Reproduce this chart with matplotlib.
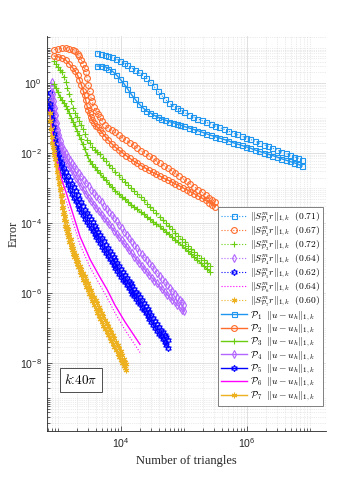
import numpy as np
import matplotlib
matplotlib.use('Agg')
import matplotlib.pyplot as plt
from matplotlib.ticker import LogLocator, NullFormatter, LogFormatterSciNotation, FixedLocator

plt.rcParams['font.family'] = ['Liberation Sans', 'DejaVu Sans']
plt.rcParams['mathtext.fontset'] = 'cm'

# ---------------- data (log10 of number of triangles / error) ----------------
p1_logn = [3.62,3.68,3.74,3.80,3.86,3.92,3.98,4.04,4.10,4.16,4.22,4.28,4.34,4.40,4.46,4.52,4.58,4.64,4.70,4.76,
           4.82,4.88,4.94,5.00,5.07,5.14,5.21,5.28,5.35,5.42,5.49,5.56,5.63,5.70,5.77,5.84,5.91,5.98,6.05,6.12,
           6.19,6.26,6.33,6.40,6.47,6.54,6.61,6.68,6.75,6.81,6.87]
p1_est = [0.86,0.83,0.80,0.77,0.73,0.68,0.63,0.58,0.52,0.44,0.37,0.30,0.23,0.14,0.03,-0.09,-0.23,-0.35,-0.46,-0.57,
          -0.65,-0.71,-0.78,-0.84,-0.90,-0.96,-1.02,-1.07,-1.12,-1.17,-1.22,-1.27,-1.32,-1.37,-1.42,-1.47,-1.52,-1.56,-1.61,-1.66,
          -1.71,-1.76,-1.81,-1.86,-1.91,-1.96,-2.01,-2.06,-2.11,-2.15,-2.19]
p1_err = [0.48,0.48,0.47,0.41,0.34,0.24,0.12,-0.01,-0.16,-0.32,-0.46,-0.59,-0.70,-0.79,-0.85,-0.92,-0.97,-1.02,-1.06,-1.10,
          -1.13,-1.17,-1.20,-1.24,-1.28,-1.32,-1.36,-1.40,-1.45,-1.49,-1.53,-1.57,-1.61,-1.65,-1.70,-1.74,-1.78,-1.82,-1.86,-1.91,
          -1.95,-1.99,-2.03,-2.07,-2.11,-2.16,-2.20,-2.24,-2.28,-2.32,-2.37]

p2_logn = [2.94,3.00,3.06,3.12,3.18,3.23,3.27,3.31,3.34,3.37,3.40,3.42,3.44,3.46,3.48,3.50,3.52,3.54,3.57,3.60,
           3.63,3.66,3.70,3.75,3.80,3.85,3.90,3.96,4.02,4.08,4.14,4.20,4.26,4.32,4.38,4.44,4.50,4.56,4.62,4.68,
           4.74,4.80,4.86,4.92,4.98,5.04,5.10,5.16,5.22,5.28,5.34,5.40,5.45,5.49]
p2_est = [0.95,0.97,0.99,1.00,0.97,0.95,0.91,0.84,0.77,0.66,0.55,0.43,0.31,0.13,-0.06,-0.23,-0.40,-0.52,-0.68,-0.81,
          -0.89,-0.98,-1.08,-1.19,-1.28,-1.35,-1.41,-1.48,-1.56,-1.63,-1.71,-1.78,-1.86,-1.93,-2.01,-2.08,-2.15,-2.22,-2.29,-2.36,
          -2.43,-2.50,-2.58,-2.66,-2.73,-2.81,-2.88,-2.96,-3.04,-3.11,-3.19,-3.27,-3.34,-3.39]
p2_err = [0.77,0.75,0.71,0.66,0.54,0.44,0.33,0.22,0.09,-0.05,-0.22,-0.35,-0.50,-0.66,-0.76,-0.87,-0.98,-1.05,-1.13,-1.22,
          -1.27,-1.33,-1.42,-1.53,-1.64,-1.73,-1.82,-1.91,-1.99,-2.07,-2.15,-2.23,-2.29,-2.36,-2.42,-2.49,-2.55,-2.60,-2.66,-2.72,
          -2.77,-2.82,-2.88,-2.93,-2.99,-3.04,-3.10,-3.16,-3.22,-3.28,-3.35,-3.42,-3.48,-3.53]

p3_logn = [2.94,2.97,3.00,3.03,3.06,3.09,3.12,3.15,3.18,3.21,3.24,3.27,3.30,3.33,3.36,3.39,3.42,3.46,3.50,3.54,
           3.58,3.62,3.66,3.71,3.76,3.81,3.86,3.91,3.96,4.01,4.06,4.11,4.16,4.21,4.26,4.31,4.36,4.41,4.46,4.51,
           4.56,4.61,4.66,4.71,4.76,4.81,4.86,4.91,4.96,5.01,5.06,5.11,5.16,5.21,5.26,5.31,5.36,5.41]
p3_est = [0.62,0.53,0.45,0.38,0.30,0.18,0.03,-0.14,-0.32,-0.51,-0.71,-0.86,-0.97,-1.08,-1.20,-1.32,-1.45,-1.62,-1.72,-1.82,
          -1.90,-1.97,-2.04,-2.14,-2.24,-2.34,-2.44,-2.54,-2.63,-2.73,-2.82,-2.90,-2.99,-3.08,-3.17,-3.26,-3.35,-3.44,-3.53,-3.62,
          -3.71,-3.81,-3.90,-3.99,-4.09,-4.18,-4.27,-4.37,-4.46,-4.55,-4.64,-4.73,-4.82,-4.90,-4.98,-5.06,-5.13,-5.21]
p3_err = [-0.04,-0.15,-0.27,-0.39,-0.49,-0.57,-0.65,-0.74,-0.86,-0.99,-1.11,-1.24,-1.36,-1.49,-1.61,-1.74,-1.87,-2.05,-2.22,-2.32,
          -2.41,-2.49,-2.58,-2.68,-2.78,-2.88,-2.98,-3.08,-3.17,-3.24,-3.32,-3.39,-3.47,-3.54,-3.61,-3.69,-3.75,-3.82,-3.89,-3.96,
          -4.02,-4.09,-4.17,-4.24,-4.32,-4.40,-4.47,-4.55,-4.63,-4.71,-4.80,-4.88,-4.97,-5.05,-5.13,-5.22,-5.30,-5.38]

p4_logn = [2.90,2.91,2.92,2.93,2.945,2.96,2.98,3.00,3.02,3.045,3.07,3.10,3.13,3.16,3.19,3.22,3.25,3.29,3.33,3.37,
           3.41,3.45,3.49,3.53,3.57,3.61,3.65,3.69,3.73,3.77,3.81,3.85,3.89,3.93,3.97,4.01,4.05,4.09,4.13,4.17,
           4.21,4.25,4.29,4.33,4.37,4.41,4.45,4.49,4.53,4.57,4.61,4.65,4.69,4.73,4.77,4.81,4.85,4.89,4.93,4.97,5.00]
p4_est = [0.02,-0.12,-0.32,-0.51,-0.71,-0.91,-1.13,-1.35,-1.48,-1.65,-1.79,-1.90,-2.01,-2.11,-2.19,-2.27,-2.36,-2.46,-2.57,-2.66,
          -2.76,-2.85,-2.95,-3.04,-3.13,-3.22,-3.31,-3.41,-3.50,-3.59,-3.68,-3.77,-3.86,-3.95,-4.04,-4.14,-4.24,-4.33,-4.43,-4.53,
          -4.62,-4.72,-4.81,-4.89,-4.97,-5.06,-5.14,-5.23,-5.32,-5.41,-5.50,-5.59,-5.68,-5.76,-5.85,-5.93,-6.01,-6.10,-6.18,-6.26,-6.33]
p4_err = [-0.30,-0.43,-0.58,-0.73,-0.95,-1.17,-1.37,-1.52,-1.68,-1.83,-1.94,-2.08,-2.21,-2.30,-2.40,-2.49,-2.59,-2.72,-2.83,-2.95,
          -3.06,-3.17,-3.28,-3.38,-3.47,-3.57,-3.66,-3.76,-3.85,-3.94,-4.03,-4.12,-4.21,-4.31,-4.40,-4.49,-4.58,-4.68,-4.77,-4.86,
          -4.96,-5.05,-5.13,-5.22,-5.31,-5.39,-5.48,-5.56,-5.64,-5.72,-5.80,-5.88,-5.96,-6.04,-6.11,-6.18,-6.25,-6.33,-6.40,-6.47,-6.52]

p5_logn = [2.87,2.88,2.89,2.90,2.915,2.93,2.945,2.96,2.98,3.00,3.02,3.045,3.07,3.10,3.13,3.16,3.19,3.22,3.25,3.28,
           3.31,3.34,3.37,3.40,3.43,3.46,3.49,3.52,3.55,3.58,3.61,3.64,3.67,3.70,3.73,3.76,3.79,3.82,3.85,3.88,
           3.91,3.94,3.97,4.00,4.03,4.06,4.09,4.12,4.15,4.18,4.21,4.24,4.27,4.30,4.33,4.36,4.39,4.42,4.45,4.48,
           4.51,4.54,4.57,4.60,4.63,4.66,4.69,4.72,4.75]
p5_est = [-0.30,-0.48,-0.66,-0.84,-1.06,-1.26,-1.42,-1.56,-1.74,-1.91,-2.02,-2.14,-2.27,-2.43,-2.55,-2.66,-2.77,-2.87,-2.98,-3.09,
          -3.19,-3.30,-3.41,-3.52,-3.62,-3.71,-3.80,-3.89,-3.98,-4.07,-4.16,-4.25,-4.34,-4.43,-4.52,-4.61,-4.70,-4.79,-4.88,-4.97,
          -5.06,-5.14,-5.22,-5.31,-5.39,-5.47,-5.56,-5.64,-5.72,-5.80,-5.88,-5.96,-6.03,-6.11,-6.19,-6.27,-6.36,-6.44,-6.53,-6.62,
          -6.71,-6.80,-6.89,-6.97,-7.04,-7.11,-7.19,-7.26,-7.33]
p5_err = [-0.60,-0.75,-0.89,-1.04,-1.26,-1.46,-1.64,-1.82,-1.98,-2.10,-2.22,-2.37,-2.51,-2.64,-2.78,-2.91,-3.05,-3.16,-3.27,-3.37,
          -3.48,-3.59,-3.68,-3.77,-3.87,-3.96,-4.05,-4.14,-4.23,-4.31,-4.40,-4.49,-4.58,-4.67,-4.76,-4.85,-4.94,-5.03,-5.11,-5.20,
          -5.28,-5.36,-5.45,-5.53,-5.61,-5.69,-5.77,-5.85,-5.93,-6.01,-6.09,-6.16,-6.24,-6.32,-6.41,-6.49,-6.57,-6.66,-6.74,-6.82,
          -6.90,-6.98,-7.07,-7.15,-7.23,-7.31,-7.39,-7.47,-7.55]

p6_logn = [2.87,2.92,2.98,3.06,3.14,3.24,3.35,3.51,3.67,3.78,3.90,4.06,4.30]
p6_est = [-1.00,-1.85,-2.42,-2.99,-3.42,-3.99,-4.62,-5.27,-5.78,-6.13,-6.55,-7.04,-7.69]
p6_err = [-0.77,-1.62,-2.19,-2.76,-3.19,-3.76,-4.39,-5.04,-5.56,-5.90,-6.33,-6.81,-7.46]

p7_logn = [2.87,2.88,2.89,2.90,2.91,2.92,2.93,2.94,2.95,2.965,2.98,2.995,3.01,3.025,3.04,3.055,3.07,3.085,3.10,3.115,
           3.13,3.145,3.16,3.18,3.20,3.22,3.24,3.26,3.28,3.30,3.32,3.345,3.37,3.395,3.42,3.445,3.47,3.495,3.52,3.545,
           3.57,3.595,3.62,3.645,3.67,3.695,3.72,3.745,3.77,3.795,3.82,3.845,3.87,3.895,3.92,3.945,3.97,3.995,4.02,4.045,
           4.065,4.08]
p7_est = [-0.58,-0.82,-1.06,-1.27,-1.45,-1.62,-1.74,-1.86,-1.98,-2.16,-2.33,-2.49,-2.66,-2.83,-3.01,-3.19,-3.37,-3.53,-3.67,-3.80,
          -3.94,-4.07,-4.17,-4.31,-4.46,-4.60,-4.71,-4.81,-4.92,-5.02,-5.11,-5.22,-5.32,-5.42,-5.52,-5.62,-5.72,-5.81,-5.91,-6.01,
          -6.10,-6.20,-6.29,-6.39,-6.48,-6.57,-6.66,-6.75,-6.84,-6.93,-7.02,-7.11,-7.20,-7.29,-7.38,-7.47,-7.56,-7.66,-7.76,-7.87,
          -7.95,-8.01]
p7_err = [-0.87,-1.09,-1.31,-1.53,-1.70,-1.82,-1.93,-2.05,-2.17,-2.35,-2.53,-2.71,-2.89,-3.05,-3.22,-3.39,-3.56,-3.74,-3.92,-4.08,
          -4.18,-4.29,-4.39,-4.54,-4.67,-4.77,-4.87,-4.97,-5.07,-5.17,-5.26,-5.38,-5.49,-5.61,-5.71,-5.81,-5.91,-6.02,-6.12,-6.23,
          -6.34,-6.44,-6.55,-6.65,-6.74,-6.83,-6.92,-7.01,-7.10,-7.19,-7.27,-7.36,-7.45,-7.54,-7.63,-7.72,-7.81,-7.90,-7.98,-8.07,
          -8.13,-8.18]

effectivity = ['0.71', '0.67', '0.72', '0.64', '0.62', '0.64', '0.60']
degrees = [1, 2, 3, 4, 5, 6, 7]
x_ticks = [1e4, 1e6]
y_ticks = [1e-8, 1e-6, 1e-4, 1e-2, 1e0]
all_logn = [p1_logn, p2_logn, p3_logn, p4_logn, p5_logn, p6_logn, p7_logn]
all_est = [p1_est, p2_est, p3_est, p4_est, p5_est, p6_est, p7_est]
all_err = [p1_err, p2_err, p3_err, p4_err, p5_err, p6_err, p7_err]

colors = ['#1E96F0', '#FF6B2B', '#6ACD10', '#B266FF', '#0000FF', '#FF00FF', '#EDB120']
markers = ['s', 'o', '+', 'd', (6, 1, 0), None, (6, 2, 0)]
msizes = [3.6, 4.2, 4.5, 4.0, 4.6, 0, 4.0]

# ---------------- figure ----------------
fig = plt.figure(figsize=(3.6, 4.84), dpi=100)
ax = fig.add_axes([0.1297, 0.1095, 0.7758, 0.8161])
ax.set_xscale('log')
ax.set_yscale('log')

for i in range(7):
    n = 10.0 ** np.array(all_logn[i])
    ax.plot(n, 10.0 ** np.array(all_est[i]), linestyle=':', lw=0.8, color=colors[i],
            marker=markers[i], ms=msizes[i], mfc='none', mew=0.8,
            label=r'$\|S^m_{\mathcal{P}_%d} r\|_{1,k}\ \ (%s)$' % (degrees[i], effectivity[i]))
for i in range(7):
    n = 10.0 ** np.array(all_logn[i])
    ax.plot(n, 10.0 ** np.array(all_err[i]), linestyle='-', lw=1.0, color=colors[i],
            marker=markers[i], ms=msizes[i], mfc='none', mew=0.8,
            label=r'$\mathcal{P}_%d\ \ \|u-u_h\|_{1,k}$' % degrees[i])

ax.set_xlim(10 ** 2.82, 10 ** 7.25)
ax.set_ylim(10 ** -9.93, 10 ** 1.34)

ax.xaxis.set_major_locator(FixedLocator(x_ticks))
ax.yaxis.set_major_locator(FixedLocator(y_ticks))
ax.xaxis.set_major_formatter(LogFormatterSciNotation(base=10.0))
ax.yaxis.set_major_formatter(LogFormatterSciNotation(base=10.0))
ax.xaxis.set_minor_locator(LogLocator(base=10.0, subs=np.arange(1, 10), numticks=100))
ax.yaxis.set_minor_locator(LogLocator(base=10.0, subs=np.arange(1, 10), numticks=100))
ax.xaxis.set_minor_formatter(NullFormatter())
ax.yaxis.set_minor_formatter(NullFormatter())

ax.grid(True, which='major', color='#DADADA', lw=0.6, ls='-')
ax.grid(True, which='minor', color='#D8D8D8', lw=0.5, ls=':')
ax.set_axisbelow(True)

for s in ['top', 'right']:
    ax.spines[s].set_visible(False)
for s in ['left', 'bottom']:
    ax.spines[s].set_color('#262626')
    ax.spines[s].set_linewidth(0.6)
ax.tick_params(which='both', direction='in', colors='#262626', labelsize=7.6, top=False, right=False)
ax.tick_params(which='major', length=3.5, width=0.5)
ax.tick_params(which='minor', length=2, width=0.5)

ax.set_xlabel('Number of triangles', fontfamily='Liberation Serif', fontsize=9, color='#262626', labelpad=4)
ax.set_ylabel('Error', fontfamily='Liberation Serif', fontsize=9, color='#262626')
ax.yaxis.set_label_coords(-0.095, 0.5)

leg = ax.legend(loc='lower right', bbox_to_anchor=(0.99, 0.064), fontsize=6.9, frameon=True,
                fancybox=False, edgecolor='#808080', framealpha=1, labelspacing=-0.05,
                handlelength=2.7, handletextpad=0.3, borderpad=0.3, borderaxespad=0.0, numpoints=1)
leg.get_frame().set_linewidth(0.7)

ax.text(0.123, 0.129, r'$k$:$40\pi$', transform=ax.transAxes, ha='center', va='center', fontsize=9.5,
        bbox=dict(boxstyle='square,pad=0.35', fc='white', ec='#333333', lw=0.6))

fig.savefig('out.png', dpi=100)
